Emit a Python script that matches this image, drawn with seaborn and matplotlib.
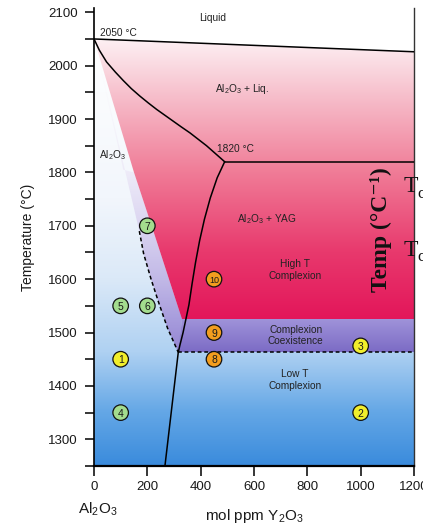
import matplotlib

matplotlib.use("Agg")
import matplotlib.pyplot as plt
import numpy as np
import pandas as pd
import seaborn as sns
from matplotlib.colors import LinearSegmentedColormap
from matplotlib.patches import Polygon
from matplotlib.ticker import MultipleLocator

# --- samples (mol ppm Y2O3, temperature in C) ---
sample_ids = ["1", "2", "3", "4", "5", "6", "7", "8", "9", "10"]
sample_ppm = [100, 1000, 1000, 100, 100, 200, 200, 450, 450, 450]
sample_temp = [1450, 1350, 1475, 1350, 1550, 1550, 1700, 1450, 1500, 1600]
sample_group = ["yellow", "yellow", "yellow", "green", "green", "green", "green",
                "orange", "orange", "orange"]

# --- phase boundaries ---
liquidus_ppm = [0, 1200]
liquidus_temp = [2050, 2026]
al2o3_liq_ppm = [0, 20, 47, 80, 110, 140, 172, 204, 235, 266, 297, 328, 360, 391, 422, 456, 490]
al2o3_liq_temp = [2050, 2029, 2007, 1988, 1972, 1957, 1943, 1930, 1918, 1907, 1896, 1885,
                  1874, 1862, 1850, 1835, 1820]
eutectic_ppm = [490, 1200]
eutectic_temp = [1820, 1820]
solvus_ppm = [490, 462, 436, 414, 396, 381, 368, 356, 345, 334, 322, 316, 266]
solvus_temp = [1820, 1790, 1752, 1712, 1672, 1632, 1592, 1552, 1526, 1500, 1476, 1463, 1250]
transition_ppm = [170, 186, 214, 244, 276, 316]
transition_temp = [1690, 1648, 1600, 1554, 1508, 1463]
coexist_ppm = [316, 1200]
coexist_temp = [1463, 1463]
high_t_edge_ppm = [330, 222, 150]
high_t_edge_temp = [1525, 1691, 1800]
wedge_top_ppm = [110, 0]
wedge_top_temp = [1805, 2050]
band_top = 1525
band_bottom = 1463

x_ticks = [0, 200, 400, 600, 800, 1000, 1200]
y_ticks = [1300, 1400, 1500, 1600, 1700, 1800, 1900, 2000, 2100]

region_labels = [
    ("Liquid", 445, 2089),
    ("Al$_2$O$_3$ + Liq.", 555, 1956),
    ("Al$_2$O$_3$", 70, 1833),
    ("1820 °C", 532, 1843),
    ("Al$_2$O$_3$ + YAG", 650, 1712),
    ("High T\nComplexion", 754, 1617),
    ("Complexion\nCoexistence", 757, 1495),
    ("Low T\nComplexion", 754, 1411),
]


def gradient_fill(ax, xs, ys, stops, y_lo, y_hi, zorder):
    poly = Polygon(np.column_stack([xs, ys]), closed=True, facecolor="none",
                   edgecolor="none", transform=ax.transData)
    ax.add_patch(poly)
    cmap = LinearSegmentedColormap.from_list(
        "grad", [((y - y_lo) / (y_hi - y_lo), c) for y, c in stops])
    grad = np.linspace(0, 1, 256).reshape(-1, 1)
    im = ax.imshow(grad, cmap=cmap, aspect="auto", origin="lower",
                   extent=[0, 1200, y_lo, y_hi], interpolation="bilinear", zorder=zorder)
    im.set_clip_path(poly)


sns.set_theme(style="ticks")
plt.rcParams["font.family"] = ["Liberation Sans", "DejaVu Sans"]
plt.rcParams["mathtext.fontset"] = "custom"
plt.rcParams["mathtext.rm"] = "Liberation Sans"
plt.rcParams["mathtext.it"] = "Liberation Sans:italic"
plt.rcParams["mathtext.bf"] = "Liberation Sans:bold"

fig = plt.figure(figsize=(4.23, 5.24), dpi=100)
ax = fig.add_axes([94 / 423, 58 / 524, 320 / 423, 458 / 524])

# background (Al2O3 single phase + low T complexion)
bg_x = [0, 1200] + liquidus_ppm[::-1]
bg_y = [1250, 1250] + liquidus_temp[::-1]
gradient_fill(ax, bg_x, bg_y,
              [(1250, "#3a8bdc"), (1350, "#64a7e6"), (1463, "#afd1f2"),
               (1600, "#dbe9f8"), (1750, "#f2f6fc"), (2050, "#ffffff")],
              1250, 2050, 0)

# lavender wedge between transition line and high T region
wedge_x = wedge_top_ppm[::-1] + high_t_edge_ppm[::-1] + transition_ppm[::-1]
wedge_y = wedge_top_temp[::-1] + high_t_edge_temp[::-1] + transition_temp[::-1]
gradient_fill(ax, wedge_x, wedge_y,
              [(1463, "#9485d3"), (1525, "#a89ddd"), (1600, "#c2b9e7"),
               (1700, "#dbd5f1"), (1800, "#eeebf8"), (1950, "#fafafd"), (2050, "#ffffff")],
              1463, 2050, 1)

# pink high temperature region
pink_x = liquidus_ppm + [1200] + high_t_edge_ppm
pink_y = liquidus_temp + [band_top] + high_t_edge_temp
gradient_fill(ax, pink_x, pink_y,
              [(1525, "#e3165a"), (1650, "#e8396d"), (1800, "#f07c97"),
               (1950, "#f7c2ce"), (2050, "#fdf1f4")],
              1525, 2050, 1)

# complexion coexistence band
band_x = [high_t_edge_ppm[0], 1200, 1200, coexist_ppm[0]]
band_y = [band_top, band_top, band_bottom, band_bottom]
gradient_fill(ax, band_x, band_y,
              [(band_bottom, "#7c6bc5"), (band_top, "#a094da")],
              band_bottom, band_top, 1)

# boundaries
for xs, ys in [(liquidus_ppm, liquidus_temp), (al2o3_liq_ppm, al2o3_liq_temp),
               (eutectic_ppm, eutectic_temp), (solvus_ppm, solvus_temp)]:
    sns.lineplot(x=xs, y=ys, sort=False, estimator=None, color="black",
                 linewidth=1.1, ax=ax, zorder=3)
for xs, ys in [(transition_ppm, transition_temp), (coexist_ppm, coexist_temp)]:
    sns.lineplot(x=xs, y=ys, sort=False, estimator=None, color="black",
                 linewidth=1.1, ax=ax, zorder=3)
ax.lines[-1].set_dashes((2.5, 1.8))
ax.lines[-2].set_dashes((2.5, 1.8))

samples = pd.DataFrame({"id": sample_ids, "ppm": sample_ppm,
                        "temp": sample_temp, "group": sample_group})
sns.scatterplot(data=samples, x="ppm", y="temp", hue="group",
                palette={"yellow": "#f1ee2c", "green": "#a3dc8e", "orange": "#f29d1f"},
                s=125, edgecolor="#111111", linewidth=0.9, legend=False, ax=ax, zorder=4)
for _, row in samples.iterrows():
    ax.text(row["ppm"], row["temp"] - 2, row["id"], ha="center", va="center",
            fontsize=6.5 if len(row["id"]) > 1 else 7.5, color="#1a1a1a", zorder=5)

for label, xv, yv in region_labels:
    ax.text(xv, yv, label, ha="center", va="center", fontsize=7.3,
            color="#222222", linespacing=1.15, zorder=5)
ax.text(22, 2062, "2050 °C", ha="left", va="center", fontsize=7.3,
        color="#222222", zorder=5)

ax.set_xlim(0, 1200)
ax.set_ylim(1250, 2108)
ax.set_xticks(x_ticks)
ax.set_yticks(y_ticks)
ax.yaxis.set_minor_locator(MultipleLocator(50))
ax.tick_params(axis="y", which="both", direction="out", length=6.5, width=1.1,
               pad=5, labelsize=9.5, color="black", labelcolor="#1a1a1a")
ax.tick_params(axis="x", which="both", direction="out", length=7, width=1.1,
               pad=4, labelsize=9.5, color="black", labelcolor="#1a1a1a")
ax.tick_params(axis="x", which="minor", length=0)
ax.set_xlabel("mol ppm Y$_2$O$_3$", fontsize=11, labelpad=10, color="#1a1a1a")
ax.set_ylabel("Temperature (°C)", fontsize=10, labelpad=10, color="#1a1a1a")
ax.grid(False)

ax.spines["top"].set_visible(False)
ax.spines["left"].set_linewidth(1.2)
ax.spines["left"].set_color("black")
ax.spines["bottom"].set_linewidth(1.6)
ax.spines["bottom"].set_color("black")
ax.spines["right"].set_linewidth(1.0)
ax.spines["right"].set_color("#333333")

fig.text(78 / 423, 1 - 509 / 524, "Al$_2$O$_3$", ha="left", va="center",
         fontsize=11, color="#1a1a1a")

# overlapping text from the neighbouring figure
serif = ["Liberation Serif", "DejaVu Serif"]
fig.text(381 / 423, 1 - 230 / 524, "Temp (°C⁻¹)", rotation=90, ha="center",
         va="center", fontsize=17, fontweight="bold", family=serif, color="#111111")
for ty in [187, 250]:
    fig.text(404 / 423, 1 - ty / 524, "T", ha="left", va="center", fontsize=17,
             family=serif, color="#111111")
    fig.text(417 / 423, 1 - (ty + 7) / 524, "c", ha="left", va="center",
             fontsize=12, family=serif, color="#111111")

fig.savefig("out.png", dpi=100)
